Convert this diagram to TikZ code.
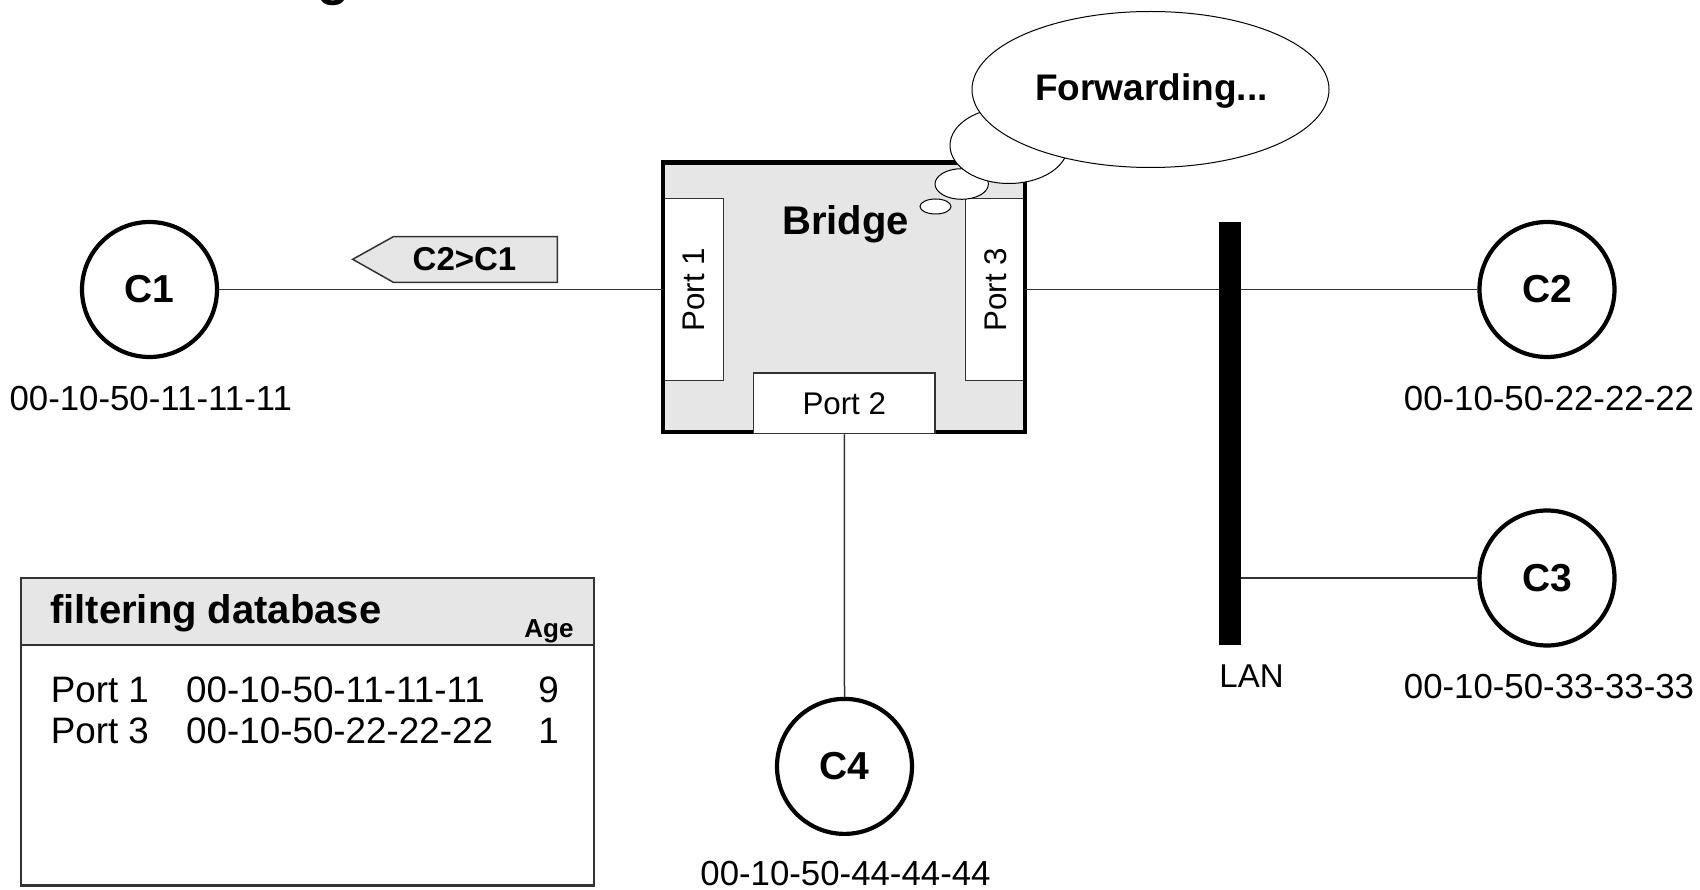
\documentclass[tikz,border=0pt]{standalone}
\usepackage{fontspec}
\setmainfont{Liberation Sans}
\usetikzlibrary{shapes.geometric}
\newcommand{\myfs}[1]{\fontsize{#1}{#1}\selectfont}
\definecolor{lightgr}{RGB}{230,230,230}
\definecolor{edgegr}{RGB}{51,51,51}
\begin{document}
\begin{tikzpicture}[x=1pt,y=-1pt,
  host/.style={circle, draw=black, line width=4.2pt, minimum size=135pt, inner sep=0pt, font=\myfs{39}\bfseries},
  addr/.style={inner sep=0pt, font=\myfs{34.8}},
  wire/.style={draw=edgegr, line width=1.5pt},
  portbox/.style={draw=edgegr, line width=1.5pt, fill=white, inner sep=0pt, font=\myfs{31.3}},
  bubble/.style={ellipse, draw=black, line width=1pt, fill=white, inner sep=0pt},
  dbtext/.style={inner sep=0pt, font=\myfs{36.8}, anchor=base west},
  agetext/.style={inner sep=0pt, font=\myfs{36.8}, anchor=base},
]
\useasboundingbox (0,0) rectangle (1700,890);

% title fragment (cut off at top)
\node[inner sep=0pt, font=\myfs{53}\bfseries, anchor=base] (title) at (333.5,-5.3) {g};

% bridge
\node[fill=lightgr, minimum width=361.1pt, minimum height=268.8pt, inner sep=0pt] (bridge) at (844.05,297.1) {};
\node[portbox, rotate=90, minimum width=181.8pt, minimum height=59.5pt] (port1) at (693.5,289.6) {Port 1};
\node[portbox, rotate=90, minimum width=181.8pt, minimum height=59.5pt] (port3) at (995.3,289.6) {Port 3};
\draw[line width=4.3pt] (bridge.north west) rectangle (bridge.south east);
\node[portbox, minimum width=181.5pt, minimum height=60.5pt] (port2) at (844.25,403.25) {Port 2};
\node[inner sep=0pt, font=\myfs{40}\bfseries, anchor=base] (blabel) at (845.5,235) {Bridge};

% hosts
\node[host] (C1) at (149.5,289.5) {C1};
\node[host] (C2) at (1547,289.5) {C2};
\node[host] (C3) at (1547,578) {C3};
\node[host] (C4) at (844.5,766.4) {C4};
\node[addr] (a1) at (150.8,399) {00-10-50-11-11-11};
\node[addr] (a2) at (1549,399) {00-10-50-22-22-22};
\node[addr] (a3) at (1549,687) {00-10-50-33-33-33};
\node[addr] (a4) at (845.5,874) {00-10-50-44-44-44};

% LAN bar position
\coordinate (lanpos) at (1230,433.5);

% wires
\draw[wire] (C1.east) -- (C1.east -| bridge.west);
\draw[wire] (C2.west -| bridge.east) -- (C2.west);
\node[fill=black, minimum width=21.4pt, minimum height=423pt, inner sep=0pt] (lan) at (lanpos) {};
\draw[wire] (C3.west -| lan.east) -- (C3.west);
\draw[wire] (port2.south) -- (C4.north);
\node[inner sep=0pt, font=\myfs{33}] (lanlbl) at (1251.5,676) {LAN};

% frame tag
\draw[fill=lightgr, draw=edgegr, line width=1.5pt] (352.7,259.3) -- (393.3,236.7) -- (557.3,236.7) -- (557.3,282.3) -- (393.3,282.3) -- cycle;
\node[inner sep=0pt, font=\myfs{33}\bfseries] (tag) at (464.5,259.3) {C2>C1};

% filtering database
\node[draw=edgegr, line width=2.4pt, minimum width=572.8pt, minimum height=307.5pt, inner sep=0pt] (db) at (307.4,731.75) {};
\node[draw=edgegr, fill=lightgr, line width=2.4pt, minimum width=572.8pt, minimum height=67pt, inner sep=0pt] (dbhead) at (307.4,611.5) {};
\node[inner sep=0pt, font=\myfs{40}\bfseries, anchor=base west] (dbtitle) at (50,623) {filtering database};
\node[inner sep=0pt, font=\myfs{26}\bfseries, anchor=base] (age) at (549,637.5) {Age};
\node[dbtext] (r1p) at (50.6,702.7) {Port 1};
\node[dbtext] (r1m) at (186,702.7) {00-10-50-11-11-11};
\node[agetext] (r1a) at (548.7,702.7) {9};
\node[dbtext] (r2p) at (50.6,743.9) {Port 3};
\node[dbtext] (r2m) at (186,743.9) {00-10-50-22-22-22};
\node[agetext] (r2a) at (548.7,743.9) {1};

% thought bubbles
\node[bubble, minimum width=31pt, minimum height=15pt] (b1) at (935.5,206.5) {};
\node[bubble, minimum width=53.4pt, minimum height=30.6pt] (b2) at (961.7,184) {};
\node[bubble, minimum width=118pt, minimum height=76pt] (b3) at (1009,145.5) {};
\node[bubble, minimum width=357pt, minimum height=156pt] (b4) at (1150.5,89.5) {};
\node[inner sep=0pt, font=\myfs{37}\bfseries, anchor=base] (fwd) at (1151.5,101) {Forwarding...};
\end{tikzpicture}
\end{document}
